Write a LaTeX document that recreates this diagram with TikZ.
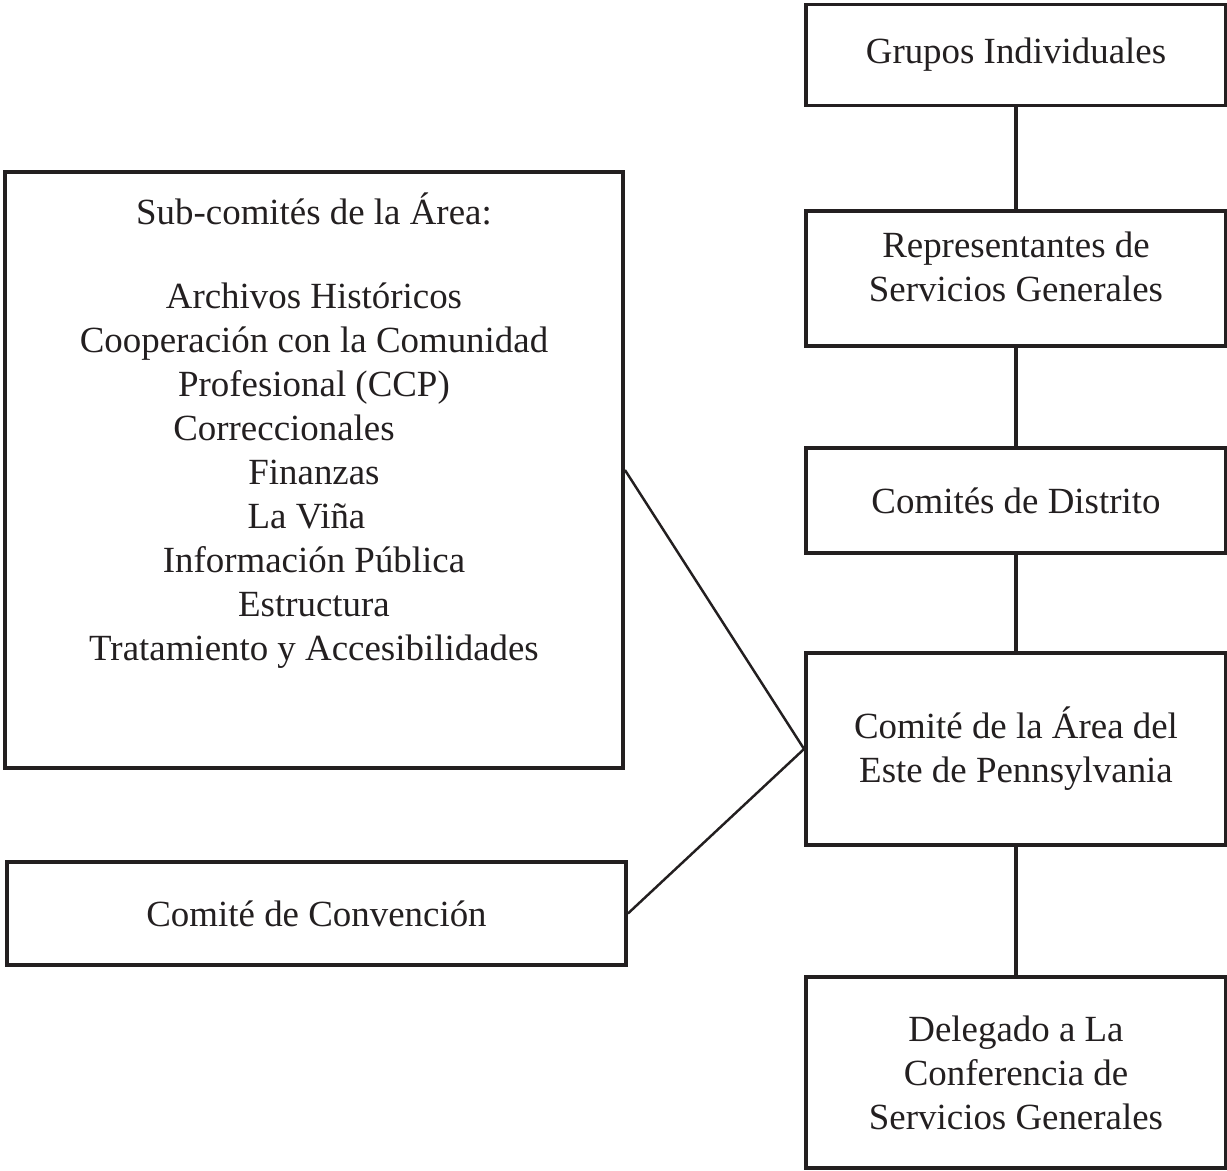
\documentclass[tikz,border=0pt]{standalone}
\usepackage{fontspec}
\setmainfont{Liberation Serif}
\usetikzlibrary{positioning}
\definecolor{ink}{HTML}{231F20}
\begin{document}
\begin{tikzpicture}[
    box/.style={draw=ink, line width=2.2pt, align=center, inner sep=0pt, text=ink},
    link/.style={draw=ink, line width=2.2pt},
    slant/.style={draw=ink, line width=1.4pt},
    font=\fontsize{21}{25}\selectfont
]
    \useasboundingbox (0,0) rectangle (24.54,-23.42);
    \node[box, minimum width=8.4cm, minimum height=2.02cm] (grupos) at (20.32,-1.1) {\raisebox{-0.06cm}{Grupos Individuales}};
    \node[box, minimum width=8.4cm, minimum height=2.7cm] (repres) at (20.32,-5.57) {};
    \node[align=center, inner sep=0pt, text=ink] (represTxt) at ([yshift=0.24cm]repres.center) {Representantes de\\Servicios Generales};
    \node[box, minimum width=8.4cm, minimum height=2.1cm] (distrito) at (20.32,-10.01) {Comités de Distrito};
    \node[box, minimum width=8.4cm, minimum height=3.84cm] (area) at (20.32,-14.98) {Comité de la Área del\\Este de Pennsylvania};
    \node[box, minimum width=8.4cm, minimum height=3.82cm] (delegado) at (20.32,-21.45) {Delegado a La\\Conferencia de\\Servicios Generales};
    \node[box, minimum width=12.36cm, minimum height=11.92cm] (subcom) at (6.28,-9.4) {};
    \node[align=center, anchor=north, inner sep=0pt, text=ink] (subTxt) at (6.28,-3.85) {Sub-comités de la Área:\\[23pt]
        Archivos Históricos\\
        Cooperación con la Comunidad\\
        Profesional (CCP)\\
        Correccionales\hspace*{1.2cm}\null\\
        Finanzas\\
        La Viña\hspace*{0.3cm}\null\\
        Información Pública\\
        Estructura\\
        Tratamiento y Accesibilidades};
    \node[box, minimum width=12.38cm, minimum height=2.06cm] (convencion) at (6.33,-18.27) {Comité de Convención};
    \draw[link] (grupos) -- (repres);
    \draw[link] (repres) -- (distrito);
    \draw[link] (distrito) -- (area);
    \draw[link] (area) -- (delegado);
    \draw[slant] (subcom.east) -- (area.west);
    \draw[slant] (convencion.east) -- (area.west);
\end{tikzpicture}
\end{document}
